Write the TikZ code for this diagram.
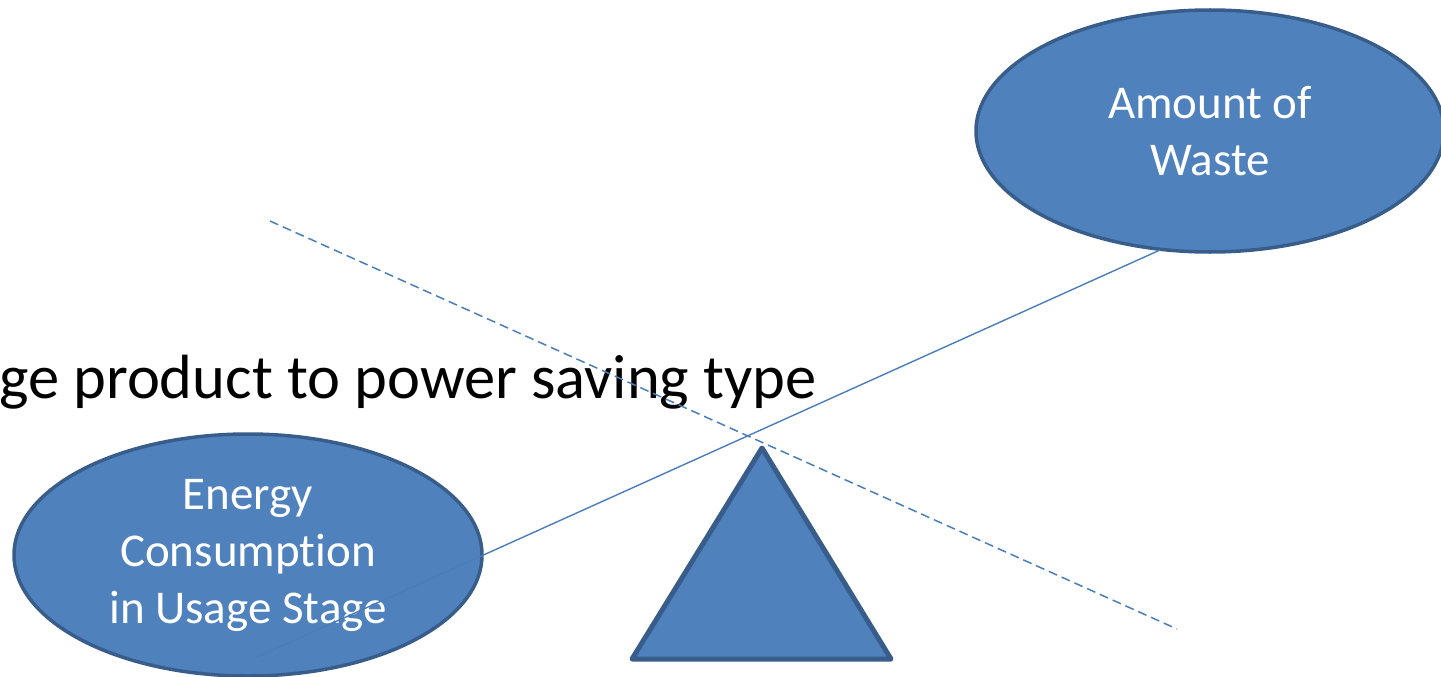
\documentclass[tikz,border=0pt]{standalone}
\usepackage{fontspec}
\setmainfont{Carlito}[Ligatures={NoCommon}]
\usetikzlibrary{shapes.geometric}
\definecolor{shapefill}{HTML}{4F81BD}
\definecolor{shapeline}{HTML}{385D8A}
\definecolor{beam}{HTML}{4A7EBB}
\tikzset{
  blob/.style={ellipse, fill=shapefill, draw=shapeline, line width=3.5pt,
    inner sep=0pt, minimum width=468pt, minimum height=242pt,
    text=white, align=center, font=\fontsize{47}{57}\selectfont},
  lever/.style={draw=beam, line width=1.4pt},
  leverold/.style={draw=beam, line width=1.5pt, dash pattern=on 9pt off 5pt},
  caption/.style={anchor=base west, inner sep=0pt, text=black,
    font=\fontsize{62.5}{70}\selectfont}
}
\begin{document}
\begin{tikzpicture}[x=1pt,y=-1pt]
  \useasboundingbox (0,0) rectangle (1441,677);
  % fulcrum
  \draw[fill=shapefill, draw=shapeline, line width=5pt, line join=round]
    (762,448) -- (891,659) -- (632,659) -- cycle;
  % the two sides of the balance
  \node[blob] (waste) at (1210,131) {Amount of\\Waste};
  \node[blob] (energy) at (248,555) {Energy\\Consumption\\in Usage Stage};
  % text
  \node[caption] (title) at (-1,398) {ge product to power saving type};
  % tilted beam (new) and level-crossing beam (old)
  \coordinate (beamL) at (255,658);
  \coordinate (beamR) at (1160,250);
  \coordinate (oldL) at (270,221);
  \coordinate (oldR) at (1177,629);
  \draw[lever] (beamL) -- (beamR);
  \draw[leverold] (oldL) -- (oldR);
\end{tikzpicture}
\end{document}
